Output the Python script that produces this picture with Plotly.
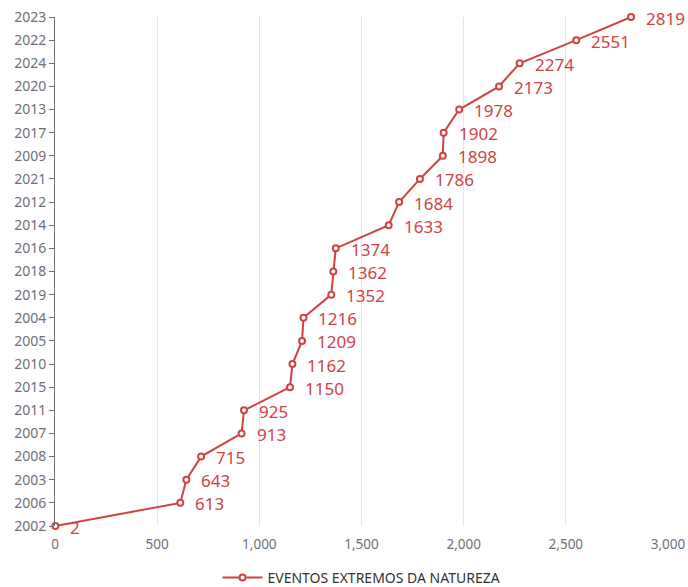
import plotly.graph_objects as go

# Years (ordered by count) and number of extreme natural events
years = ["2002", "2006", "2003", "2008", "2007", "2011", "2015", "2010", "2005", "2004",
         "2019", "2018", "2016", "2014", "2012", "2021", "2009", "2017", "2013", "2020",
         "2024", "2022", "2023"]
events = [2, 613, 643, 715, 913, 925, 1150, 1162, 1209, 1216,
          1352, 1362, 1374, 1633, 1684, 1786, 1898, 1902, 1978, 2173,
          2274, 2551, 2819]
x_ticks = [0, 500, 1000, 1500, 2000, 2500, 3000]
series_name = "EVENTOS EXTREMOS DA NATUREZA"

RED = "#d04343"
FONT = "Noto Sans, Open Sans, sans-serif"

fig = go.Figure()
fig.add_trace(go.Scatter(
    x=events, y=years, mode="lines+markers", name=series_name,
    line=dict(color=RED, width=2),
    marker=dict(symbol="circle", size=6, color="white", line=dict(color=RED, width=2)),
    cliponaxis=False,
))

# value labels to the right of each point (category index used for y)
for i, v in enumerate(events):
    fig.add_annotation(x=v, y=i, text=str(v), showarrow=False, xanchor="left",
                       yanchor="middle", xshift=13, yshift=-1,
                       font=dict(color=RED, size=17, family=FONT))

fig.update_layout(
    width=688, height=587,
    margin=dict(l=55, r=20, t=17, b=61, autoexpand=False),
    paper_bgcolor="white", plot_bgcolor="white",
    font=dict(family=FONT, color="#6e7079", size=13),
    showlegend=True,
    legend=dict(orientation="h", x=0.5, xanchor="center", y=-0.102, yanchor="middle",
                itemwidth=40,
                font=dict(size=14, color="#333333", family=FONT)),
    xaxis=dict(range=[0, 3000], tickvals=x_ticks, tickformat=",", showgrid=True,
               gridcolor="#e0e6f1", gridwidth=1, zeroline=False, showline=False,
               ticks="", ticklabelstandoff=8, tickfont=dict(size=13.5, color="#6e7079")),
    yaxis=dict(type="category", categoryorder="array", categoryarray=years,
               range=[0, len(years) - 1], showgrid=False, zeroline=False,
               showline=True, linecolor="#6e7079", linewidth=1,
               ticks="outside", ticklen=5, tickcolor="#6e7079",
               tickfont=dict(size=14, color="#6e7079")),
)

fig.write_html("out.html")
